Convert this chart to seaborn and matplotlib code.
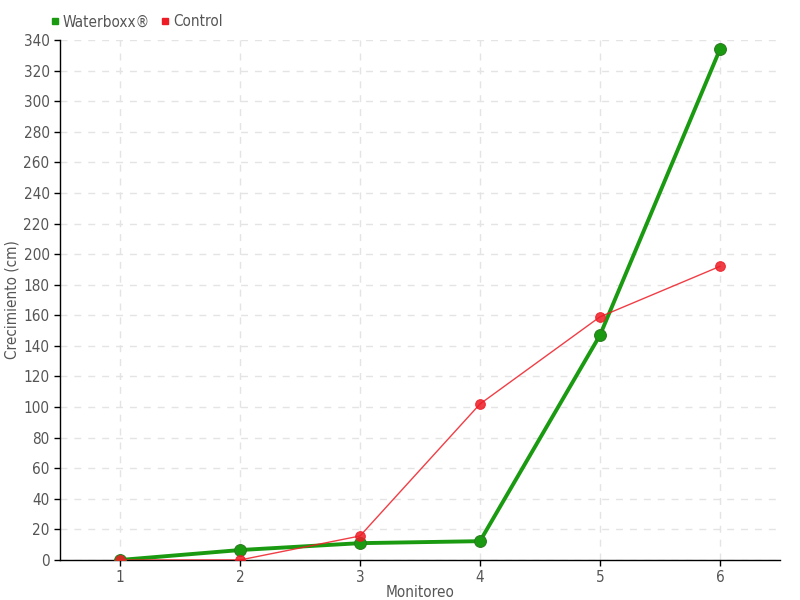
import pandas as pd
import matplotlib.pyplot as plt
import seaborn as sns
from matplotlib.lines import Line2D

# Monitoring rounds and growth values (cm)
monitoreo = [1, 2, 3, 4, 5, 6]
waterboxx = [0, 6.5, 11, 12.3, 147, 334]
control = [0, 0, 15.7, 102, 159, 192]

df = pd.DataFrame({
    'Monitoreo': monitoreo * 2,
    'Crecimiento': waterboxx + control,
    'Serie': ['Waterboxx®'] * len(monitoreo) + ['Control'] * len(monitoreo),
})

sns.set_style('white')
plt.rcParams['font.family'] = ['DejaVu Sans']
plt.rcParams['font.stretch'] = 'condensed'

fig, ax = plt.subplots(figsize=(8, 6), dpi=100)
fig.subplots_adjust(left=0.075, right=0.975, bottom=0.0667, top=0.9333)

green = '#1a9a10'
red = '#ee1c25'

wb = df[df['Serie'] == 'Waterboxx®']
ct = df[df['Serie'] == 'Control']
sns.lineplot(data=wb, x='Monitoreo', y='Crecimiento', color=green, lw=2.8,
             marker='o', markersize=8.5, markeredgecolor='#2a7a20', ax=ax, zorder=3)
sns.lineplot(data=ct, x='Monitoreo', y='Crecimiento', color=red, lw=1, alpha=0.85,
             marker='o', markersize=7, markeredgecolor=red, ax=ax, zorder=4)

ax.set_xlim(0.5, 6.5)
ax.set_ylim(0, 340)
ax.set_xticks(monitoreo)
ax.set_yticks(range(0, 341, 20))
ax.grid(True, color='#e4e4e4', linestyle=(0, (5, 5)), lw=1)
for s in ['top', 'right']:
    ax.spines[s].set_visible(False)
for s in ['left', 'bottom']:
    ax.spines[s].set_color('black')
    ax.spines[s].set_linewidth(1)
ax.tick_params(axis='both', colors='black', labelcolor='#555555', labelsize=11,
               direction='out', length=4, width=1, left=True, bottom=True)
ax.set_xlabel('Monitoreo', color='#555555', fontsize=11, labelpad=0)
ax.set_ylabel('Crecimiento (cm)', color='#555555', fontsize=11, labelpad=3)

handles = [Line2D([], [], ls='', marker='s', color=green, markersize=5),
           Line2D([], [], ls='', marker='s', color=red, markersize=5)]
ax.legend(handles, ['Waterboxx®', 'Control'], loc='lower left',
          bbox_to_anchor=(-0.03, 1.0), ncol=2, frameon=False, fontsize=11,
          handletextpad=0.1, columnspacing=0.6, handlelength=0.8,
          labelcolor='#555555', borderaxespad=0.3)

fig.savefig('out.png')
